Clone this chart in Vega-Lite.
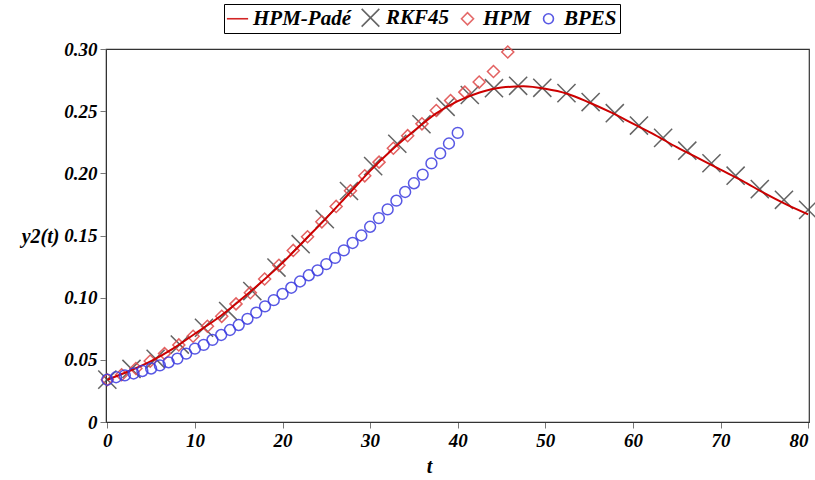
{
  "$schema": "https://vega.github.io/schema/vega-lite/v6.json",
  "autosize": {"type": "none"},
  "padding": {"left": 106, "top": 49, "right": 6, "bottom": 58},
  "width": 703,
  "height": 373,
  "background": "white",
  "config": {
    "view": {"stroke": "#333", "strokeWidth": 1.2},
    "axis": {
      "labelFont": "Liberation Serif", "labelFontSize": 19, "labelFontStyle": "italic", "labelFontWeight": "bold", "labelColor": "#000",
      "titleFont": "Liberation Serif", "titleFontSize": 20, "titleFontStyle": "italic", "titleFontWeight": "bold", "titleColor": "#000",
      "domainColor": "#333", "tickColor": "#777", "tickSize": 6, "grid": false
    },
    "legend": {
      "labelFont": "Liberation Serif", "labelFontSize": 21, "labelFontStyle": "italic", "labelFontWeight": "bold", "labelColor": "#000"
    }
  },
  "data": {"values": [
    {"series": "HPM-Padé", "t": 0, "y": 0.034},
    {"series": "HPM-Padé", "t": 2.5, "y": 0.041},
    {"series": "HPM-Padé", "t": 5, "y": 0.049},
    {"series": "HPM-Padé", "t": 7.5, "y": 0.059},
    {"series": "HPM-Padé", "t": 10, "y": 0.071},
    {"series": "HPM-Padé", "t": 12.5, "y": 0.083},
    {"series": "HPM-Padé", "t": 15, "y": 0.097},
    {"series": "HPM-Padé", "t": 17.5, "y": 0.112},
    {"series": "HPM-Padé", "t": 20, "y": 0.128},
    {"series": "HPM-Padé", "t": 22.5, "y": 0.146},
    {"series": "HPM-Padé", "t": 25, "y": 0.164},
    {"series": "HPM-Padé", "t": 27.5, "y": 0.183},
    {"series": "HPM-Padé", "t": 30, "y": 0.202},
    {"series": "HPM-Padé", "t": 32.5, "y": 0.219},
    {"series": "HPM-Padé", "t": 35, "y": 0.234},
    {"series": "HPM-Padé", "t": 37.5, "y": 0.248},
    {"series": "HPM-Padé", "t": 40, "y": 0.258},
    {"series": "HPM-Padé", "t": 42.5, "y": 0.265},
    {"series": "HPM-Padé", "t": 45, "y": 0.269},
    {"series": "HPM-Padé", "t": 47.5, "y": 0.270},
    {"series": "HPM-Padé", "t": 50, "y": 0.268},
    {"series": "HPM-Padé", "t": 52.5, "y": 0.264},
    {"series": "HPM-Padé", "t": 55, "y": 0.257},
    {"series": "HPM-Padé", "t": 57.5, "y": 0.249},
    {"series": "HPM-Padé", "t": 60, "y": 0.240},
    {"series": "HPM-Padé", "t": 62.5, "y": 0.231},
    {"series": "HPM-Padé", "t": 65, "y": 0.221},
    {"series": "HPM-Padé", "t": 67.5, "y": 0.212},
    {"series": "HPM-Padé", "t": 70, "y": 0.203},
    {"series": "HPM-Padé", "t": 72.5, "y": 0.194},
    {"series": "HPM-Padé", "t": 75, "y": 0.184},
    {"series": "HPM-Padé", "t": 77.5, "y": 0.175},
    {"series": "HPM-Padé", "t": 80, "y": 0.167},

    {"series": "RKF45", "t": 0, "y": 0.0341},
    {"series": "RKF45", "t": 2.759, "y": 0.0427},
    {"series": "RKF45", "t": 5.517, "y": 0.0508},
    {"series": "RKF45", "t": 8.276, "y": 0.0623},
    {"series": "RKF45", "t": 11.034, "y": 0.0758},
    {"series": "RKF45", "t": 13.793, "y": 0.0892},
    {"series": "RKF45", "t": 16.552, "y": 0.1053},
    {"series": "RKF45", "t": 19.310, "y": 0.1242},
    {"series": "RKF45", "t": 22.069, "y": 0.1430},
    {"series": "RKF45", "t": 24.828, "y": 0.1631},
    {"series": "RKF45", "t": 27.586, "y": 0.1858},
    {"series": "RKF45", "t": 30.345, "y": 0.2058},
    {"series": "RKF45", "t": 33.103, "y": 0.2238},
    {"series": "RKF45", "t": 35.862, "y": 0.2395},
    {"series": "RKF45", "t": 38.621, "y": 0.2535},
    {"series": "RKF45", "t": 41.379, "y": 0.2630},
    {"series": "RKF45", "t": 44.138, "y": 0.2685},
    {"series": "RKF45", "t": 46.897, "y": 0.2704},
    {"series": "RKF45", "t": 49.655, "y": 0.2688},
    {"series": "RKF45", "t": 52.414, "y": 0.2645},
    {"series": "RKF45", "t": 55.172, "y": 0.2573},
    {"series": "RKF45", "t": 57.931, "y": 0.2484},
    {"series": "RKF45", "t": 60.690, "y": 0.2384},
    {"series": "RKF45", "t": 63.448, "y": 0.2285},
    {"series": "RKF45", "t": 66.207, "y": 0.2182},
    {"series": "RKF45", "t": 68.966, "y": 0.2081},
    {"series": "RKF45", "t": 71.724, "y": 0.1981},
    {"series": "RKF45", "t": 74.483, "y": 0.1873},
    {"series": "RKF45", "t": 77.241, "y": 0.1787},
    {"series": "RKF45", "t": 80, "y": 0.1706},

    {"series": "HPM", "t": 0, "y": 0.034},
    {"series": "HPM", "t": 1.633, "y": 0.038},
    {"series": "HPM", "t": 3.265, "y": 0.043},
    {"series": "HPM", "t": 4.898, "y": 0.049},
    {"series": "HPM", "t": 6.531, "y": 0.055},
    {"series": "HPM", "t": 8.163, "y": 0.062},
    {"series": "HPM", "t": 9.796, "y": 0.069},
    {"series": "HPM", "t": 11.429, "y": 0.077},
    {"series": "HPM", "t": 13.061, "y": 0.085},
    {"series": "HPM", "t": 14.694, "y": 0.095},
    {"series": "HPM", "t": 16.327, "y": 0.104},
    {"series": "HPM", "t": 17.959, "y": 0.115},
    {"series": "HPM", "t": 19.592, "y": 0.126},
    {"series": "HPM", "t": 21.224, "y": 0.138},
    {"series": "HPM", "t": 22.857, "y": 0.149},
    {"series": "HPM", "t": 24.490, "y": 0.161},
    {"series": "HPM", "t": 26.122, "y": 0.1734},
    {"series": "HPM", "t": 27.755, "y": 0.186},
    {"series": "HPM", "t": 29.388, "y": 0.198},
    {"series": "HPM", "t": 31.020, "y": 0.209},
    {"series": "HPM", "t": 32.653, "y": 0.2202},
    {"series": "HPM", "t": 34.286, "y": 0.2303},
    {"series": "HPM", "t": 35.918, "y": 0.2398},
    {"series": "HPM", "t": 37.551, "y": 0.2505},
    {"series": "HPM", "t": 39.184, "y": 0.2585},
    {"series": "HPM", "t": 40.816, "y": 0.2653},
    {"series": "HPM", "t": 42.449, "y": 0.2734},
    {"series": "HPM", "t": 44.082, "y": 0.2819},
    {"series": "HPM", "t": 45.714, "y": 0.2976},

    {"series": "BPES", "t": 0, "y": 0.034},
    {"series": "BPES", "t": 1, "y": 0.036},
    {"series": "BPES", "t": 2, "y": 0.0375},
    {"series": "BPES", "t": 3, "y": 0.039},
    {"series": "BPES", "t": 4, "y": 0.041},
    {"series": "BPES", "t": 5, "y": 0.043},
    {"series": "BPES", "t": 6, "y": 0.0455},
    {"series": "BPES", "t": 7, "y": 0.048},
    {"series": "BPES", "t": 8, "y": 0.051},
    {"series": "BPES", "t": 9, "y": 0.055},
    {"series": "BPES", "t": 10, "y": 0.059},
    {"series": "BPES", "t": 11, "y": 0.062},
    {"series": "BPES", "t": 12, "y": 0.066},
    {"series": "BPES", "t": 13, "y": 0.070},
    {"series": "BPES", "t": 14, "y": 0.074},
    {"series": "BPES", "t": 15, "y": 0.078},
    {"series": "BPES", "t": 16, "y": 0.083},
    {"series": "BPES", "t": 17, "y": 0.088},
    {"series": "BPES", "t": 18, "y": 0.093},
    {"series": "BPES", "t": 19, "y": 0.098},
    {"series": "BPES", "t": 20, "y": 0.103},
    {"series": "BPES", "t": 21, "y": 0.108},
    {"series": "BPES", "t": 22, "y": 0.113},
    {"series": "BPES", "t": 23, "y": 0.118},
    {"series": "BPES", "t": 24, "y": 0.122},
    {"series": "BPES", "t": 25, "y": 0.127},
    {"series": "BPES", "t": 26, "y": 0.132},
    {"series": "BPES", "t": 27, "y": 0.138},
    {"series": "BPES", "t": 28, "y": 0.144},
    {"series": "BPES", "t": 29, "y": 0.150},
    {"series": "BPES", "t": 30, "y": 0.157},
    {"series": "BPES", "t": 31, "y": 0.164},
    {"series": "BPES", "t": 32, "y": 0.171},
    {"series": "BPES", "t": 33, "y": 0.178},
    {"series": "BPES", "t": 34, "y": 0.185},
    {"series": "BPES", "t": 35, "y": 0.192},
    {"series": "BPES", "t": 36, "y": 0.199},
    {"series": "BPES", "t": 37, "y": 0.208},
    {"series": "BPES", "t": 38, "y": 0.216},
    {"series": "BPES", "t": 39, "y": 0.224},
    {"series": "BPES", "t": 40, "y": 0.2325}
  ]},
  "encoding": {
    "x": {"field": "t", "type": "quantitative",
      "scale": {"domain": [-0.15, 80.1], "nice": false, "zero": false},
      "axis": {"values": [0, 10, 20, 30, 40, 50, 60, 70, 80], "title": "t", "labelPadding": 3,
        "titleX": 323, "titleY": 44, "titleBaseline": "middle", "titleAnchor": null}},
    "y": {"field": "y", "type": "quantitative",
      "scale": {"domain": [0, 0.3], "nice": false},
      "axis": {"values": [0, 0.05, 0.1, 0.15, 0.2, 0.25, 0.3], "title": "y2(t)", "labelPadding": 3,
        "labelExpr": "datum.value == 0 ? '0' : format(datum.value, '.2f')",
        "titleAngle": 0, "titleAlign": "right", "titleBaseline": "middle", "titleX": -47, "titleY": 187}},
    "color": {"field": "series", "type": "nominal",
      "scale": {"domain": ["HPM-Padé", "RKF45", "HPM", "BPES"], "range": ["#cc0000", "#4a4a4a", "#e05050", "#3c3ce0"]},
      "legend": {"orient": "none", "legendX": 118, "legendY": -45, "direction": "horizontal", "columns": 4, "title": null,
        "strokeColor": "#000", "padding": 3, "symbolSize": 200, "symbolStrokeWidth": 1.6, "symbolFillColor": "transparent",
        "columnPadding": 7, "labelOffset": 5}}
  },
  "layer": [
    {
      "transform": [{"filter": "datum.series == 'RKF45'"}],
      "mark": {"type": "point", "filled": false, "size": 210, "strokeWidth": 1.5, "opacity": 0.85},
      "encoding": {"shape": {"field": "series", "type": "nominal",
        "scale": {"domain": ["HPM-Padé", "RKF45", "HPM", "BPES"],
          "range": ["M-1.5,0L1.5,0", "M-1.25,-1.25L1.25,1.25M-1.25,1.25L1.25,-1.25", "M-0.85,0L0,-0.85L0.85,0L0,0.85Z", "M-0.7,0A0.7,0.7,0,1,0,0.7,0A0.7,0.7,0,1,0,-0.7,0Z"]},
        "legend": {"orient": "none", "legendX": 118, "legendY": -45, "direction": "horizontal", "columns": 4, "title": null,
        "strokeColor": "#000", "padding": 3, "symbolSize": 200, "symbolStrokeWidth": 1.6, "symbolFillColor": "transparent",
        "columnPadding": 7, "labelOffset": 5}}}
    },
    {
      "transform": [{"filter": "datum.series == 'HPM'"}],
      "mark": {"type": "point", "filled": false, "size": 200, "strokeWidth": 1.5, "opacity": 0.9},
      "encoding": {"shape": {"field": "series", "type": "nominal"}}
    },
    {
      "transform": [{"filter": "datum.series == 'HPM-Padé'"}],
      "mark": {"type": "line", "strokeWidth": 2, "interpolate": "monotone"}
    },
    {
      "transform": [{"filter": "datum.series == 'BPES'"}],
      "mark": {"type": "point", "filled": false, "size": 240, "strokeWidth": 1.5, "opacity": 0.85},
      "encoding": {"shape": {"field": "series", "type": "nominal"}}
    }
  ]
}
